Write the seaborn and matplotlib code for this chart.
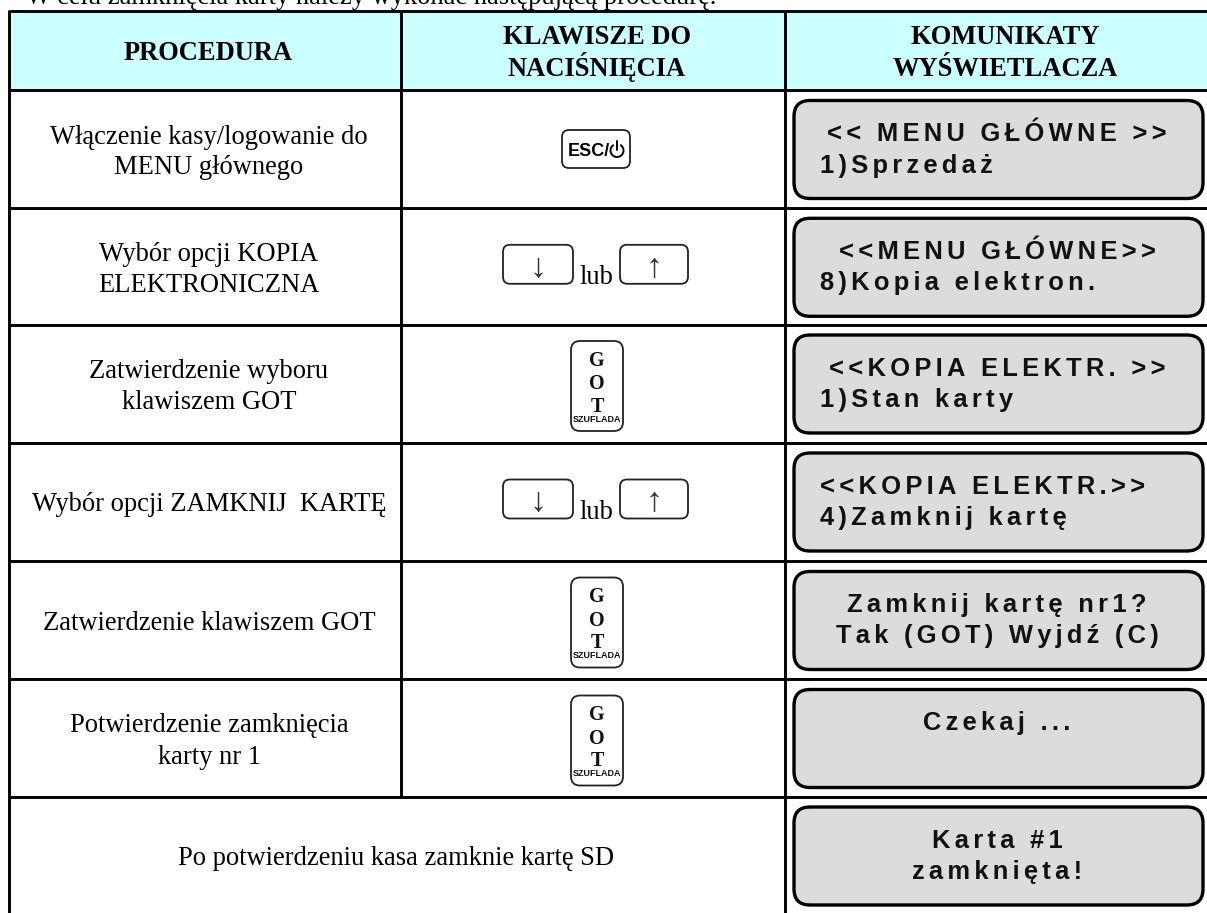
import matplotlib
matplotlib.use("Agg")
import matplotlib.pyplot as plt
from matplotlib.patches import FancyBboxPatch, Rectangle, Arc
import seaborn as sns

sns.set_theme(style="white")

intro = "W celu zamknięcia karty należy wykonać następującą procedurę."
headers = [["PROCEDURA"], ["KLAWISZE DO", "NACIŚNIĘCIA"], ["KOMUNIKATY", "WYŚWIETLACZA"]]
procedures = [
    ["Włączenie kasy/logowanie do", "MENU głównego"],
    ["Wybór opcji KOPIA", "ELEKTRONICZNA"],
    ["Zatwierdzenie wyboru", "klawiszem GOT"],
    ["Wybór opcji ZAMKNIJ  KARTĘ"],
    ["Zatwierdzenie klawiszem GOT"],
    ["Potwierdzenie zamknięcia", "karty nr 1"],
    ["Po potwierdzeniu kasa zamknie kartę SD"],
]
keys = ["esc", "arrows", "got", "arrows", "got", "got", None]
# (text, centred?) for the two lines of the display
displays = [
    [("<< MENU GŁÓWNE >>", True), ("1)Sprzedaż", False)],
    [("<<MENU GŁÓWNE>>", True), ("8)Kopia elektron.", False)],
    [("<<KOPIA ELEKTR. >>", True), ("1)Stan karty", False)],
    [("<<KOPIA ELEKTR.>>", False), ("4)Zamknij kartę", False)],
    [("Zamknij kartę nr1?", True), ("Tak (GOT) Wyjdź (C)", True)],
    [("Czekaj ...", True)],
    [("Karta #1", True), ("zamknięta!", True)],
]

W, H = 1207, 913
row_y = [11, 90.5, 208.3, 325, 443, 561.5, 679.5, 797, 916]
col_x = [9.3, 400.5, 785, 1209]
header_x = [208.5, 597, 1005]
SERIF = "Liberation Serif"
SANS = "Liberation Sans"
LINE = 2.1


def px(size):
    return size * 0.72


def spaced(s):
    return "\u200a\u200a".join(s)


def rounded(ax, x0, y0, x1, y1, r, fc, lw, ec="black"):
    ax.add_patch(FancyBboxPatch((x0 + r, y0 + r), x1 - x0 - 2 * r, y1 - y0 - 2 * r,
                                boxstyle=f"round,pad={r},rounding_size={r}",
                                fc=fc, ec=ec, lw=lw, zorder=3))


def draw_arrow_keys(ax, top):
    rounded(ax, 503, top + 36.5, 573, top + 75.5, 7, "white", 1.3, "#222222")
    rounded(ax, 620, top + 36.5, 688, top + 75.5, 7, "white", 1.3, "#222222")
    ax.text(538, top + 60, "↓", family=SERIF, fontsize=px(34), ha="center", va="center", color="#333333", zorder=4)
    ax.text(654, top + 60, "↑", family=SERIF, fontsize=px(34), ha="center", va="center", color="#333333", zorder=4)
    ax.text(596, top + 76, "lub", family=SERIF, fontsize=px(26.5), ha="center", va="baseline", color="black", zorder=4)


def draw_got_key(ax, top):
    rounded(ax, 571, top + 16, 623, top + 106, 9, "white", 1.3, "#222222")
    for letter, dy in zip("GOT", [41, 64, 87]):
        ax.text(597, top + dy, letter, family=SERIF, weight="bold", fontsize=px(20),
                ha="center", va="baseline", color="#111111", zorder=4)
    ax.text(597, top + 96.5, "SZUFLADA", family=SANS, weight="bold", fontsize=px(9),
            ha="center", va="baseline", color="#111111", zorder=4)


def draw_esc_key(ax, top):
    rounded(ax, 562, top + 39.5, 630, top + 77.5, 7, "white", 1.3, "#222222")
    ax.text(568, top + 65.5, "ESC/", family=SANS, weight="bold", fontsize=px(18),
            ha="left", va="baseline", color="black", zorder=4)
    ax.add_patch(Arc((617, top + 60), 13, 13, theta1=-60, theta2=240, color="black", lw=1.4, zorder=4))
    ax.plot([617, 617], [top + 51, top + 60], color="black", lw=1.4, zorder=4)


fig, ax = plt.subplots(figsize=(W / 100, H / 100), dpi=100)
fig.subplots_adjust(0, 0, 1, 1)
ax.set_xlim(0, W)
ax.set_ylim(H, 0)
ax.axis("off")

ax.text(26, 4, intro, family=SERIF, fontsize=px(26.5), ha="left", va="baseline", color="black", clip_on=True)

# header background
ax.add_patch(Rectangle((col_x[0], row_y[0]), col_x[3] - col_x[0], row_y[1] - row_y[0], fc="#CCFFFF", ec="none"))

# grid
for y in row_y[:-1]:
    ax.plot([col_x[0], col_x[3]], [y, y], color="black", lw=LINE, solid_capstyle="butt", zorder=2)
ax.plot([col_x[0], col_x[0]], [row_y[0] - 1, H], color="black", lw=LINE, solid_capstyle="butt", zorder=2)
ax.plot([col_x[1], col_x[1]], [row_y[0], row_y[7]], color="black", lw=LINE, solid_capstyle="butt", zorder=2)
ax.plot([col_x[2], col_x[2]], [row_y[0], H], color="black", lw=LINE, solid_capstyle="butt", zorder=2)

# header
ax.text(header_x[0], 60, headers[0][0], family=SERIF, weight="bold", fontsize=px(26.5),
        ha="center", va="baseline", color="black")
for i in [1, 2]:
    for line, base in zip(headers[i], [44.5, 76]):
        ax.text(header_x[i], base, line, family=SERIF, weight="bold", fontsize=px(26.5),
                ha="center", va="baseline", color="black")

# rows
for i in range(len(procedures)):
    top = row_y[i + 1]
    lines = procedures[i]
    cx = 209 if keys[i] else 396
    bases = [53, 84] if len(lines) == 2 else [68]
    for line, base in zip(lines, bases):
        ax.text(cx, top + base, line, family=SERIF, fontsize=px(26.5), ha="center", va="baseline", color="black")
    if keys[i] == "esc":
        draw_esc_key(ax, top)
    elif keys[i] == "arrows":
        draw_arrow_keys(ax, top)
    elif keys[i] == "got":
        draw_got_key(ax, top)

    rounded(ax, 794, top + 10, 1203, top + 108, 16, "#DCDCDC", 2.4)
    for (line, centred), base in zip(displays[i], [50.5, 82]):
        if centred:
            ax.text(997, top + base, spaced(line), family=SANS, weight="bold", fontsize=px(25.5),
                    ha="center", va="baseline", color="#111111", zorder=4)
        else:
            ax.text(820, top + base, spaced(line), family=SANS, weight="bold", fontsize=px(25.5),
                    ha="left", va="baseline", color="#111111", zorder=4)

fig.savefig("out.png", dpi=100)
